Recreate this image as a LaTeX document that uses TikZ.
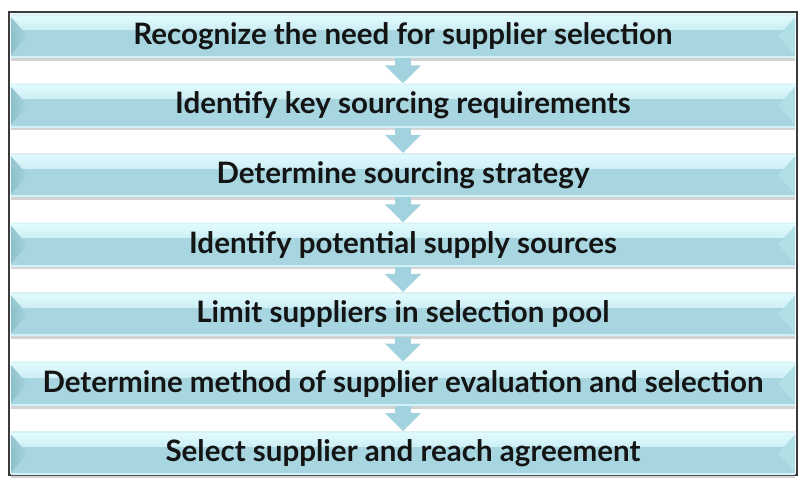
\documentclass[tikz,border=0pt]{standalone}
\usepackage{fontspec}
\setmainfont{Lato}
\usetikzlibrary{positioning,arrows.meta,shadows}
\definecolor{boxfill}{HTML}{A7D6E0}
\definecolor{boxhi}{HTML}{E2FCFF}
\definecolor{boxdark}{HTML}{8CBEC8}
\definecolor{boxlight}{HTML}{B0E0E6}
\definecolor{arrowfill}{HTML}{A2D2DD}
\definecolor{framegray}{HTML}{3A3A3A}
\begin{document}
\begin{tikzpicture}[node distance=0.625cm,
    stepbox/.style={rectangle, fill=boxfill, minimum width=19.6cm, minimum height=1.1cm, inner sep=0pt,
        font=\bfseries\fontsize{21}{24}\selectfont, text=black!92,
        drop shadow={shadow xshift=0pt, shadow yshift=-0.07cm, opacity=0.35, fill=gray},
        path picture={
            \shade[top color=boxhi, bottom color=boxfill] (path picture bounding box.north west) rectangle ([yshift=-0.38cm]path picture bounding box.north east);
            \shade[left color=boxdark, right color=boxfill, fill opacity=0.9] ([yshift=-0.08cm]path picture bounding box.north west) -- ([xshift=0.42cm,yshift=-0.55cm]path picture bounding box.north west)
                -- ([yshift=0.08cm]path picture bounding box.south west) -- cycle;
            \fill[boxlight] ([yshift=-0.08cm]path picture bounding box.north east) -- ([xshift=-0.42cm,yshift=-0.55cm]path picture bounding box.north east)
                -- ([yshift=0.08cm]path picture bounding box.south east) -- cycle;
            \fill[white!60!boxfill] (path picture bounding box.north west) rectangle ([yshift=-0.04cm]path picture bounding box.north east);
            \fill[boxhi!70!boxfill] (path picture bounding box.south west) rectangle ([yshift=0.05cm]path picture bounding box.south east);
        }},
    flowarrow/.style={draw=arrowfill, line width=0.4cm, -{Triangle[width=0.88cm,length=0.45cm]}}]
  \useasboundingbox (0,0) rectangle (20.2,12);
  \draw[framegray, line width=0.8pt] (0.225,0.125) rectangle (19.925,11.7);

  \node [stepbox](1) at (10.075,11.1) {Recognize the need for supplier selection};
  \node [stepbox](2) [below=of 1] {Identify key sourcing requirements};
  \node [stepbox](3) [below=of 2] {Determine sourcing strategy};
  \node [stepbox](4) [below=of 3] {Identify potential supply sources};
  \node [stepbox](5) [below=of 4] {Limit suppliers in selection pool};
  \node [stepbox](6) [below=of 5] {Determine method of supplier evaluation and selection};
  \node [stepbox](7) [below=of 6] {Select supplier and reach agreement};

  \foreach \a/\b in {1/2, 2/3, 3/4, 4/5, 5/6, 6/7}
    \draw[flowarrow] (\a) -- (\b);
\end{tikzpicture}
\end{document}
